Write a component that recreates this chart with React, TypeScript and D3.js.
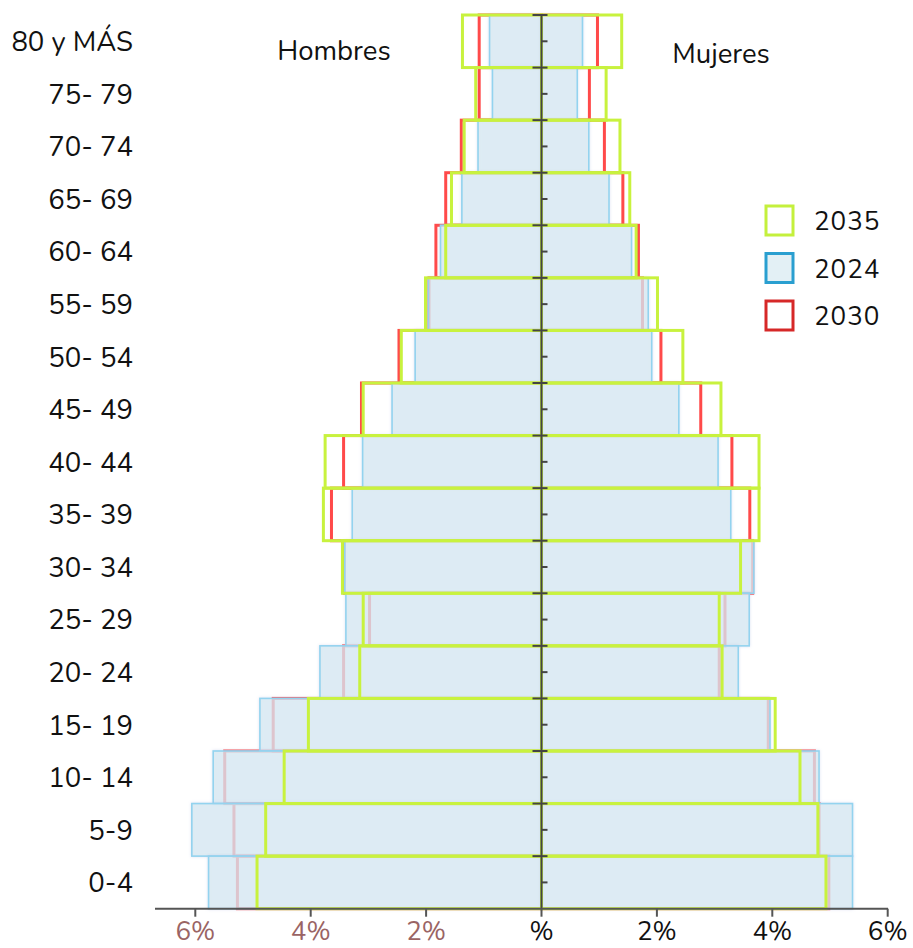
import React from "react";
import * as d3 from "d3";

const ages = ["80 y MÁS", "75- 79", "70- 74", "65- 69", "60- 64", "55- 59", "50- 54", "45- 49", "40- 44", "35- 39", "30- 34", "25- 29", "20- 24", "15- 19", "10- 14", "5-9", "0-4"];

const men2024 = [0.90, 0.85, 1.10, 1.38, 1.75, 1.96, 2.19, 2.59, 3.10, 3.28, 3.41, 3.39, 3.84, 4.88, 5.69, 6.06, 5.77];
const men2030 = [1.08, 1.08, 1.39, 1.66, 1.83, 1.95, 2.47, 3.12, 3.43, 3.64, 3.42, 2.98, 3.43, 4.65, 5.49, 5.33, 5.27];
const men2035 = [1.37, 1.14, 1.34, 1.56, 1.66, 2.01, 2.43, 3.09, 3.75, 3.78, 3.45, 3.09, 3.15, 4.04, 4.46, 4.78, 4.93];
const women2024 = [0.71, 0.62, 0.82, 1.17, 1.56, 1.85, 1.91, 2.38, 3.06, 3.28, 3.68, 3.60, 3.41, 3.96, 4.81, 5.39, 5.39];
const women2030 = [0.97, 0.83, 1.09, 1.41, 1.68, 1.75, 2.07, 2.76, 3.30, 3.61, 3.66, 3.18, 3.08, 3.93, 4.73, 4.81, 4.98];
const women2035 = [1.39, 1.12, 1.36, 1.53, 1.64, 2.01, 2.45, 3.11, 3.77, 3.77, 3.45, 3.08, 3.13, 4.05, 4.48, 4.79, 4.93];

const tickValues = [-6, -4, -2, 0, 2, 4, 6];
const tickLabels = ["6%", "4%", "2%", "%", "2%", "4%", "6%"];

const legendItems = [
  { label: "2035", stroke: "#c4f03c", fill: "#ffffff" },
  { label: "2024", stroke: "#2a9fd0", fill: "#e3f0f5" },
  { label: "2030", stroke: "#d62828", fill: "#ffffff" },
];

const FONT = "Nunito, 'Noto Sans', 'Open Sans', sans-serif";
const GREEN = "#c8f23e";
const RED = "#ff4a4a";
const BLUE_STROKE = "#93d3ef";
const BLUE_FILL = "#d9ebf2";

export default function App() {
  const W = 913, H = 948;
  const x = d3.scaleLinear().domain([-6, 6]).range([195.3, 887.7]);
  const y = d3.scaleBand<string>().domain(ages).range([15, 908.7]).padding(0);
  const x0 = x(0);
  const bh = y.bandwidth();
  const axisY = 908.7;

  const bars = (vals: number[], side: number) =>
    vals.map((v, i) => {
      const xv = x(side * v);
      return { x: Math.min(x0, xv), w: Math.abs(xv - x0), y: y(ages[i]) as number, key: i };
    });

  const series = [
    { m: men2030, f: women2030, stroke: RED, sw: 3, fill: "none", fo: 1, filter: undefined },
    { m: men2024, f: women2024, stroke: BLUE_STROKE, sw: 1.6, fill: BLUE_FILL, fo: 0.7, filter: "url(#shadow)" },
    { m: men2035, f: women2035, stroke: GREEN, sw: 3, fill: "none", fo: 1, filter: undefined },
  ];

  return (
    <svg width={W} height={H} style={{ position: "absolute", left: 0, top: 0, background: "#fff" }} fontFamily={FONT}>
      <defs>
        <filter id="shadow" x="-10%" y="-10%" width="120%" height="120%">
          <feDropShadow dx="0" dy="0" stdDeviation="1.8" floodColor="#a9b2dd" floodOpacity="0.4" />
        </filter>
      </defs>
      {series.map((s, si) => (
        <g key={si}>
          {[...bars(s.m, -1), ...bars(s.f, 1)].map((b, j) => (
            <rect key={j} x={b.x} y={b.y} width={b.w} height={bh} fill={s.fill} fillOpacity={s.fo}
              stroke={s.stroke} strokeWidth={s.sw} filter={s.filter} />
          ))}
        </g>
      ))}
      {/* vertical axis */}
      <line x1={x0} x2={x0} y1={15} y2={axisY} stroke="#444" strokeWidth={2} />
      {ages.map((a, i) => {
        const yt = y(a) as number;
        return (
          <g key={a}>
            <line x1={x0 - 9} x2={x0 + 6} y1={yt} y2={yt} stroke="#444" strokeWidth={2} />
            <line x1={x0} x2={x0 + 6} y1={yt + bh / 2} y2={yt + bh / 2} stroke="#444" strokeWidth={2} />
            <text x={133} y={yt + bh / 2} dy="0.36em" textAnchor="end" fontSize={27.5} fill="#111">{a}</text>
          </g>
        );
      })}
      {/* bottom axis */}
      <line x1={155} x2={888} y1={axisY} y2={axisY} stroke="#555" strokeWidth={2} />
      {tickValues.map((t, i) => (
        <g key={i}>
          <line x1={x(t)} x2={x(t)} y1={axisY} y2={axisY + 8} stroke="#555" strokeWidth={2} />
          <text x={x(t)} y={940} textAnchor="middle" fontSize={26} fill={t < 0 ? "#9a6464" : "#111"}>{tickLabels[i]}</text>
        </g>
      ))}
      <text x={334} y={50} dy="0.36em" textAnchor="middle" fontSize={27.5} fill="#111">Hombres</text>
      <text x={721} y={53} dy="0.36em" textAnchor="middle" fontSize={27.5} fill="#111">Mujeres</text>
      {legendItems.map((l, i) => (
        <g key={l.label}>
          <rect x={766} y={206 + i * 47.5} width={27} height={29} fill={l.fill} stroke={l.stroke} strokeWidth={3} />
          <text x={814} y={221 + i * 47.5} dy="0.36em" fontSize={26} fill="#111" letterSpacing={1}>{l.label}</text>
        </g>
      ))}
    </svg>
  );
}
